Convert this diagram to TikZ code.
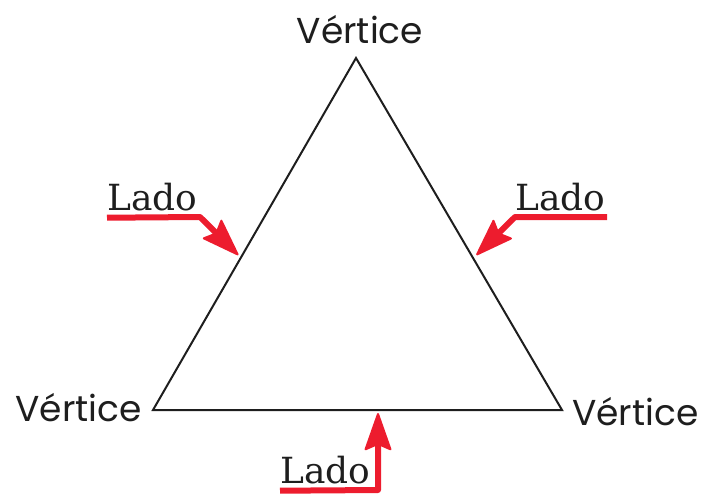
\documentclass[tikz,border=0pt]{standalone}
\usepackage{fontspec}
\usepackage{tikz}
\usetikzlibrary{arrows.meta,calc}
\newfontfamily\vertexfont{Poppins}
\newfontfamily\ladofont{DejaVu Serif}
\definecolor{ladored}{RGB}{237,28,46}
\definecolor{sidegray}{RGB}{30,30,30}
\tikzset{
  sideline/.style={draw=sidegray, line width=2pt, line join=miter},
  vertexlabel/.style={inner sep=0pt, font=\vertexfont\fontsize{36}{40}\selectfont, text=sidegray},
  ladolabel/.style={inner sep=0pt, anchor=base west, font=\ladofont\fontsize{36}{40}\selectfont, text=sidegray},
  ladoarrow/.style={draw=ladored, line width=6pt, line join=round,
    -{Stealth[length=40pt, width=28pt, inset=6pt, line width=2pt, round]}}
}

\begin{document}
\begin{tikzpicture}[x=1pt,y=-1pt]
\useasboundingbox (0,0) rectangle (706,499);
% triangle corners
\coordinate (top) at (356,58);
\coordinate (left) at (153,410);
\coordinate (right) at (562,410);
\draw[sideline] (top) -- (left) -- (right) -- cycle;

% vertex names
\node[vertexlabel, anchor=base] (vtop) at (360,43) {Vértice};
\node[vertexlabel, anchor=base east] (vleft) at (142,421) {Vértice};
\node[vertexlabel, anchor=base west] (vright) at (572,425) {Vértice};

% side names
\node[ladolabel] (ladoleft) at (107,210) {Lado};
\node[ladolabel] (ladoright) at (515,210) {Lado};
\node[ladolabel] (ladobottom) at (280,483) {Lado};

% arrow tips on the sides
\coordinate (tipleft) at ($(top)!0.56!(left)+(-4,0)$);
\coordinate (tipright) at ($(top)!0.56!(right)+(5,0)$);
\coordinate (tipbottom) at (378,413);

\draw[ladoarrow] ([yshift=-7pt]ladoleft.south west) -- (200,217) -- (tipleft);
\draw[ladoarrow] (607,217) -- (515,217) -- (tipright);
\draw[ladoarrow] ([yshift=-7pt]ladobottom.south west) -- (378,490) -- (tipbottom);
\end{tikzpicture}
\end{document}
